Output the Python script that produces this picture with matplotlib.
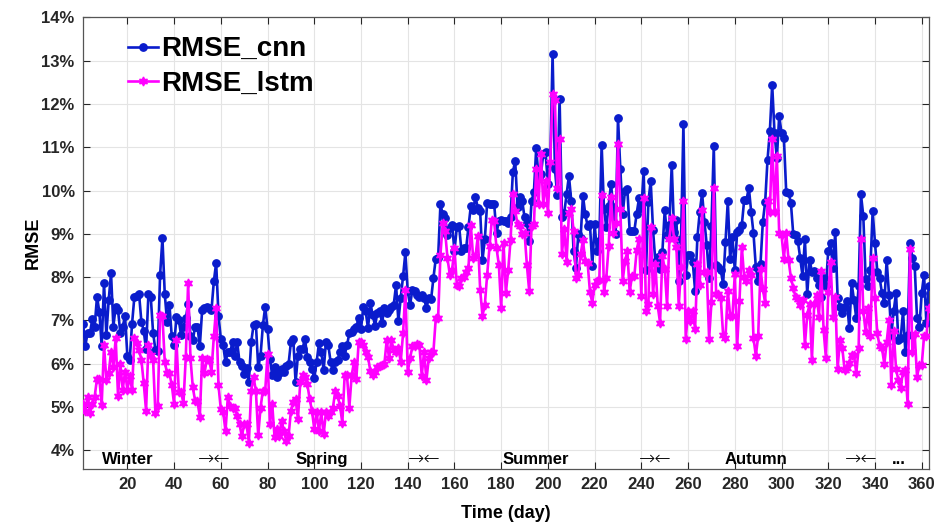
import numpy as np
import matplotlib
matplotlib.use("Agg")
import matplotlib.pyplot as plt

plt.rcParams["font.family"] = ["Liberation Sans", "DejaVu Sans"]

# daily RMSE (%), split by stretches of the year
cnn_a = [6.93, 6.42, 6.72, 6.72, 7.03, 6.86, 7.55, 7.2, 6.41, 7.87, 6.66, 7.47, 8.09, 6.86, 7.32,
         7.24, 6.7, 6.86, 7.1, 6.18, 6.09, 6.92, 7.55, 7.56, 7.61, 6.97, 6.76, 6.33, 7.6, 7.55,
         6.72, 6.32, 6.3, 8.05, 8.9, 7.61, 6.97, 7.36, 6.63, 6.43, 7.07, 7.01, 6.66, 6.86, 7.05,
         7.38, 6.63, 6.55, 6.86, 6.86, 6.4, 7.24, 7.28, 7.32, 7.28, 7.24, 7.9]
cnn_b = [8.33, 7.11, 6.58, 6.43, 6.04, 6.27, 6.27, 6.5, 6.19, 6.5, 6.04, 5.95, 5.77, 5.9, 5.59,
         6.5, 6.89, 6.93, 5.92, 6.19, 6.89, 7.32, 6.81, 6.12, 5.73, 5.92, 5.69, 5.79, 5.88, 5.81,
         5.96, 6.0, 6.5, 6.58, 5.57, 6.19, 6.35, 6.35, 6.58, 6.16, 6.04, 5.88, 5.67, 6.04, 6.47,
         6.27, 5.85, 6.5, 6.43, 6.04, 5.85, 6.04, 6.08, 6.27, 6.41, 6.19, 6.43, 6.7, 6.74, 6.8,
         6.85, 7.06, 6.8]
cnn_c = [7.32, 7.21, 6.82, 7.4, 7.13, 6.88, 7.17, 7.22, 6.94, 7.28, 7.17, 7.25, 7.32, 7.36, 7.82,
         6.99, 7.52, 8.02, 8.57, 7.67, 7.36, 7.71, 7.69, 7.59, 7.55, 7.58, 7.52, 7.28, 7.52, 7.49,
         7.98, 8.43, 8.44, 9.68, 9.45, 9.37, 8.98, 9.14, 9.21, 8.6, 9.15, 9.18, 8.6, 8.67, 8.67,
         9.15, 9.64, 9.56, 9.85, 9.6, 9.52, 8.4, 8.87, 9.72, 9.69, 9.68, 9.68, 9.02, 9.29, 9.31]
cnn_d = [9.3, 9.3, 9.26, 9.38, 10.42, 10.69, 9.61, 9.84, 9.76, 9.38, 9.26, 8.84, 9.76, 9.96, 10.98,
         10.3, 10.38, 10.84, 10.88, 10.15, 10.61, 13.15, 10.5, 9.9, 12.12, 9.4, 9.49, 9.92, 10.34,
         9.76, 8.6, 8.22, 8.99, 8.91, 9.88, 9.45, 9.18, 9.22, 8.26, 9.22, 8.6, 8.84, 11.06, 9.57,
         9.15, 9.65, 10.15, 9.61, 8.99, 11.68, 10.5, 9.45, 10.0, 10.03, 9.07, 9.07, 9.07]
cnn_e = [9.47, 9.82, 9.59, 10.44, 8.16, 9.74, 10.22, 9.09, 8.35, 8.47, 8.19, 8.58, 9.55, 8.97, 9.2,
         10.6, 9.05, 9.32, 7.92, 8.89, 11.53, 8.04, 8.52, 8.52, 8.35, 7.69, 8.93, 9.51, 9.94, 9.28,
         8.74, 7.98, 9.19, 11.02, 8.27, 8.23, 8.16, 7.84, 8.81, 9.76, 8.43, 8.93, 8.16, 9.05, 9.09,
         9.2, 9.78, 9.78, 10.07, 9.51, 9.01, 8.23, 7.9, 8.31, 9.28, 9.74, 10.71, 11.37, 12.44, 11.33,
         10.75, 11.72, 11.33, 11.22]
cnn_f = [9.97, 9.95, 9.72, 9.0, 8.97, 8.83, 8.44, 8.02, 8.87, 7.61, 8.4, 8.13, 8.15, 7.98, 7.82,
         7.55, 7.98, 7.79, 8.61, 8.79, 8.21, 9.04, 7.53, 7.32, 7.17, 7.3, 7.44, 6.82, 7.86, 7.48,
         7.05, 7.79, 9.91, 9.41, 7.96, 7.79, 8.17, 9.52, 8.79, 8.13, 7.98, 7.63, 7.4, 8.4, 7.59,
         6.67, 7.22, 7.63, 6.55, 6.59, 7.21, 6.28, 6.67, 8.79, 8.44, 8.25, 7.05, 6.86, 7.63, 8.06,
         6.94, 7.79]

lstm_a = [5.07, 4.9, 5.24, 4.87, 5.07, 5.24, 5.66, 5.65, 5.05, 6.43, 5.63, 5.78, 6.28, 5.93, 6.59,
          5.26, 6.0, 5.4, 5.82, 5.4, 5.72, 5.4, 6.59, 6.47, 6.32, 6.09, 5.55, 4.92, 6.43, 6.2,
          6.09, 4.86, 5.03, 7.13, 7.1, 6.05, 5.78, 5.78, 5.51, 5.07, 6.55, 5.36, 5.34, 5.09, 6.16,
          7.87, 6.13, 5.46, 5.14, 5.13, 4.78, 6.13, 5.78, 6.1, 6.09, 5.82, 6.63]
lstm_b = [7.28, 5.5, 4.95, 4.88, 4.45, 5.23, 5.02, 4.99, 4.99, 4.8, 4.6, 4.33, 4.6, 4.6, 4.18,
          5.38, 5.69, 5.38, 4.35, 4.99, 5.38, 5.38, 6.23, 4.6, 5.07, 4.3, 4.49, 4.33, 4.68, 4.45,
          4.22, 4.33, 4.92, 5.11, 5.19, 4.72, 5.57, 5.73, 5.69, 5.54, 5.19, 4.92, 4.49, 4.88, 4.45,
          4.88, 4.37, 4.88, 4.8, 4.88, 4.99, 5.38, 5.26, 5.03, 4.64, 5.73, 5.73, 4.99, 5.73, 6.04,
          5.65, 6.5, 6.5]
lstm_c = [6.43, 6.28, 6.16, 5.83, 5.74, 5.82, 5.93, 5.96, 5.97, 5.99, 6.55, 6.13, 6.55, 6.32, 6.28,
          6.36, 6.05, 6.7, 7.71, 5.82, 6.13, 6.4, 6.4, 6.45, 6.43, 5.72, 6.28, 5.62, 6.13, 6.28,
          6.28, 7.05, 7.05, 8.52, 9.25, 9.06, 8.44, 8.06, 8.17, 8.67, 7.83, 7.79, 7.98, 8.0, 8.13,
          8.21, 9.21, 8.44, 8.48, 8.94, 7.71, 7.11, 7.36, 8.06, 8.71, 9.33, 9.29, 8.67, 8.29, 7.28]
lstm_d = [8.8, 7.64, 8.16, 8.85, 9.93, 9.53, 9.22, 9.18, 8.99, 9.03, 8.28, 7.68, 9.18, 9.22, 10.5,
          9.69, 10.84, 9.69, 10.23, 9.49, 10.65, 12.23, 12.08, 10.07, 11.19, 8.53, 9.11, 8.36, 9.49,
          9.57, 9.07, 7.99, 8.06, 8.53, 8.85, 8.37, 8.33, 7.66, 7.41, 7.83, 7.91, 7.93, 9.9, 7.66,
          7.99, 8.72, 9.84, 9.03, 9.26, 11.08, 9.57, 7.91, 8.37, 8.6, 7.66, 8.03, 8.03]
lstm_e = [8.62, 8.89, 7.57, 9.82, 7.22, 7.38, 9.16, 7.61, 8.31, 7.34, 6.95, 8.5, 8.19, 7.34, 8.89,
          9.36, 8.89, 8.7, 7.34, 8.23, 9.76, 6.57, 7.22, 6.99, 7.22, 6.8, 8.31, 7.81, 9.55, 8.12,
          8.12, 6.58, 7.42, 10.05, 7.61, 7.61, 7.51, 6.66, 6.6, 7.69, 7.11, 7.11, 8.08, 6.4, 7.46,
          8.7, 8.0, 7.92, 8.16, 8.04, 6.6, 6.18, 6.64, 8.19, 7.73, 7.4, 9.76, 9.51, 11.18, 9.51,
          10.79, 9.01, 8.97, 8.43]
lstm_f = [9.02, 8.4, 7.99, 7.76, 7.55, 7.5, 7.36, 7.48, 6.43, 7.13, 7.38, 6.09, 7.38, 7.59, 7.09,
          8.15, 6.78, 6.13, 7.65, 8.35, 7.09, 7.55, 5.89, 6.55, 6.37, 5.86, 5.91, 6.01, 6.2, 6.2,
          5.78, 6.37, 8.87, 7.21, 6.74, 7.28, 6.63, 8.44, 7.52, 6.7, 6.4, 6.36, 5.99, 6.51, 7.01,
          5.51, 6.76, 5.89, 5.62, 5.45, 5.82, 5.86, 5.06, 8.66, 6.28, 6.68, 5.7, 5.97, 5.97, 6.63,
          6.63, 7.28]

rmse_cnn = cnn_a + cnn_b + cnn_c + cnn_d + cnn_e + cnn_f
rmse_lstm = lstm_a + lstm_b + lstm_c + lstm_d + lstm_e + lstm_f
days = np.arange(1, len(rmse_cnn) + 1)

seasons = ["Winter", "Spring", "Summer", "Autumn", "..."]
season_x = [20, 103, 195, 289, 350]
breaks_x = [57, 147, 246, 334]

BLUE = "#0a1ccc"
MAGENTA = "#ff00ff"

fig = plt.figure(figsize=(9.42, 5.28), dpi=100)
ax = fig.add_axes([0.0881, 0.1117, 0.8978, 0.8555])

ax.plot(days, rmse_cnn, color=BLUE, lw=1.9, marker="o", ms=5.3, label="RMSE_cnn", zorder=3)
ax.plot(days, rmse_lstm, color=MAGENTA, lw=1.9, marker=(6, 1, 0), ms=6.5, label="RMSE_lstm",
        zorder=4)

ax.set_xlim(1, 363)
ax.set_ylim(3.57, 14)
ax.set_xticks(np.arange(20, 361, 20))
ax.set_yticks(np.arange(4, 15, 1))
ax.set_yticklabels([f"{v}%" for v in range(4, 15)])
ax.grid(color="#e4e4e4", lw=0.8)
ax.set_axisbelow(True)
ax.tick_params(direction="in", top=True, right=True, length=5, width=0.8,
               labelsize=12, colors="#262626", pad=6)
for lbl in ax.get_xticklabels() + ax.get_yticklabels():
    lbl.set_fontweight("bold")
for s in ax.spines.values():
    s.set_color("#555555")
    s.set_linewidth(0.9)

for name, x in zip(seasons, season_x):
    ax.text(x, 3.8, name, ha="center", va="center", fontsize=12, fontweight="bold", color="black")
for x in breaks_x:
    ax.text(x, 3.82, "\u2192\u2190", ha="center", va="center", fontsize=14, color="black",
            family=["DejaVu Sans"], fontweight="light")

ax.set_xlabel("Time (day)", fontsize=13, fontweight="bold", labelpad=9)
ax.set_ylabel("RMSE", fontsize=13, fontweight="bold", labelpad=0)

ax.legend(loc="upper left", bbox_to_anchor=(0.033, 0.995), frameon=False,
          prop={"size": 20, "weight": "bold"}, handlelength=1.1, handletextpad=0.1,
          labelspacing=0.3, borderaxespad=0.2)

fig.savefig("out.png", dpi=100)
